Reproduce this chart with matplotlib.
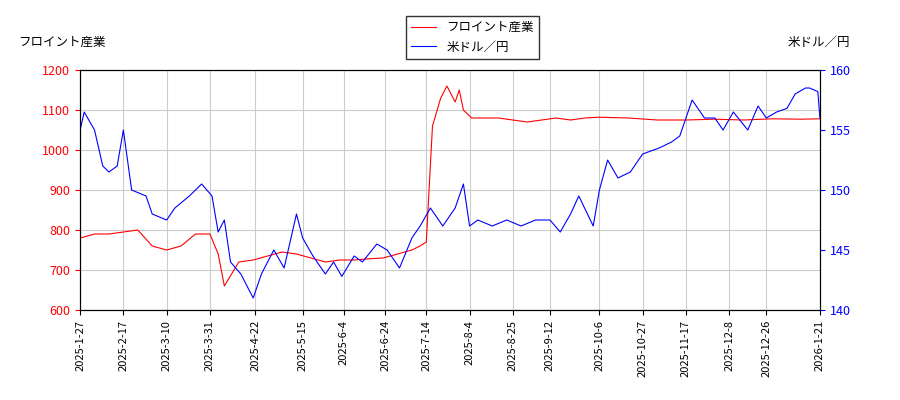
import pandas as pd
import matplotlib.pyplot as plt

plt.rcParams['font.family'] = ['Noto Sans CJK JP', 'DejaVu Sans']

price_dates = ['2025-01-27', '2025-02-03', '2025-02-10', '2025-02-17', '2025-02-24', '2025-03-03',
               '2025-03-10', '2025-03-17', '2025-03-24', '2025-03-31', '2025-04-04', '2025-04-07',
               '2025-04-14', '2025-04-21', '2025-04-28', '2025-05-05', '2025-05-12', '2025-05-19',
               '2025-05-26', '2025-06-02', '2025-06-09', '2025-06-16', '2025-06-23', '2025-06-30',
               '2025-07-07', '2025-07-11', '2025-07-14', '2025-07-17', '2025-07-21', '2025-07-24',
               '2025-07-28', '2025-07-30', '2025-08-01', '2025-08-05', '2025-08-18', '2025-08-25', '2025-09-01',
               '2025-09-08', '2025-09-15', '2025-09-22', '2025-09-29', '2025-10-06', '2025-10-20',
               '2025-11-03', '2025-11-17', '2025-12-01', '2025-12-15', '2025-12-29', '2026-01-12',
               '2026-01-21']
price = [780, 790, 790, 795, 800, 760, 750, 760, 790, 790, 740, 660,
         720, 725, 735, 745, 740, 730, 720, 725, 725, 728, 730, 740,
         750, 760, 770, 1060, 1130, 1160, 1120, 1150, 1100, 1080, 1080, 1075, 1070,
         1075, 1080, 1075, 1080, 1082, 1080, 1075, 1075, 1077, 1075, 1078, 1077,
         1078]

fx_dates = ['2025-01-27', '2025-01-29', '2025-02-03', '2025-02-07', '2025-02-10', '2025-02-14',
            '2025-02-17', '2025-02-21', '2025-02-28', '2025-03-03', '2025-03-10', '2025-03-14',
            '2025-03-21', '2025-03-27', '2025-04-01', '2025-04-04', '2025-04-07', '2025-04-10',
            '2025-04-15', '2025-04-21', '2025-04-25', '2025-05-01', '2025-05-06', '2025-05-12',
            '2025-05-15', '2025-05-20', '2025-05-26', '2025-05-30', '2025-06-03', '2025-06-09',
            '2025-06-13', '2025-06-20', '2025-06-25', '2025-07-01', '2025-07-07', '2025-07-11',
            '2025-07-16', '2025-07-22', '2025-07-28', '2025-08-01', '2025-08-04', '2025-08-08',
            '2025-08-15', '2025-08-22', '2025-08-29', '2025-09-05', '2025-09-12', '2025-09-17',
            '2025-09-22', '2025-09-26', '2025-10-03', '2025-10-06', '2025-10-10', '2025-10-15',
            '2025-10-21', '2025-10-27', '2025-11-04', '2025-11-10', '2025-11-14', '2025-11-20',
            '2025-11-26', '2025-12-01', '2025-12-05', '2025-12-10', '2025-12-17', '2025-12-22',
            '2025-12-26', '2025-12-31', '2026-01-05', '2026-01-09', '2026-01-14', '2026-01-16',
            '2026-01-20', '2026-01-21']
fx = [155, 156.5, 155, 152, 151.5, 152, 155, 150, 149.5, 148, 147.5, 148.5,
      149.5, 150.5, 149.5, 146.5, 147.5, 144, 143, 141, 143, 145, 143.5, 148,
      146, 144.5, 143, 144, 142.8, 144.5, 144, 145.5, 145, 143.5, 146, 147,
      148.5, 147, 148.5, 150.5, 147, 147.5, 147, 147.5, 147, 147.5, 147.5, 146.5,
      148, 149.5, 147, 150, 152.5, 151, 151.5, 153, 153.5, 154, 154.5, 157.5,
      156, 156, 155, 156.5, 155, 157, 156, 156.5, 156.8, 158, 158.5, 158.5,
      158.2, 156]

tick_labels = ['2025-1-27', '2025-2-17', '2025-3-10', '2025-3-31', '2025-4-22', '2025-5-15',
               '2025-6-4', '2025-6-24', '2025-7-14', '2025-8-4', '2025-8-25', '2025-9-12',
               '2025-10-6', '2025-10-27', '2025-11-17', '2025-12-8', '2025-12-26', '2026-1-21']

fig, ax = plt.subplots(figsize=(9, 4), dpi=100)
fig.subplots_adjust(left=0.089, right=0.911, top=0.825, bottom=0.225)
l1, = ax.plot(pd.to_datetime(price_dates), price, color='red', lw=0.8, label='フロイント産業')
ax2 = ax.twinx()
l2, = ax2.plot(pd.to_datetime(fx_dates), fx, color='blue', lw=0.8, label='米ドル／円')

ax.set_ylim(600, 1200)
ax2.set_ylim(140, 160)
ax2.set_yticks([140, 145, 150, 155, 160])
ax.set_xlim(pd.Timestamp('2025-01-27'), pd.Timestamp('2026-01-21'))
ticks = pd.to_datetime(tick_labels)
ax.set_xticks(ticks)
ax.set_xticklabels(tick_labels, rotation=90, fontsize=8)
ax.tick_params(axis='y', colors='red', labelsize=9)
ax2.tick_params(axis='y', colors='blue', labelsize=9)
for lab in ax.get_xticklabels():
    lab.set_color('black')
ax.grid(True, color='#cccccc', lw=0.8)
ax.set_axisbelow(True)

fig.text(0.02, 0.885, 'フロイント産業', fontsize=9)
fig.text(0.945, 0.885, '米ドル／円', fontsize=9, ha='right')
fig.legend(handles=[l1, l2], loc='upper center', bbox_to_anchor=(0.525, 0.975),
           fontsize=9, fancybox=False, edgecolor='black')

fig.savefig('out.png')
